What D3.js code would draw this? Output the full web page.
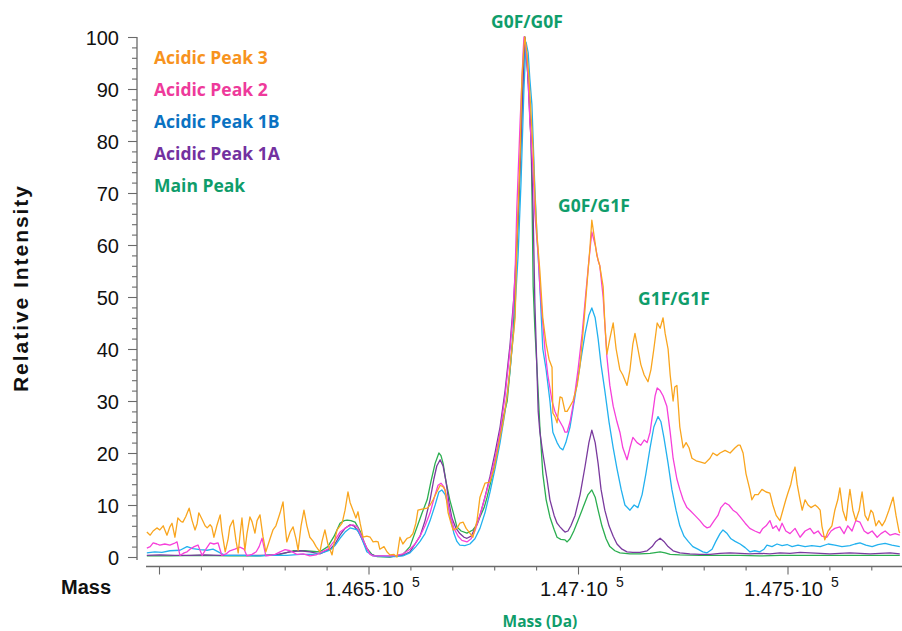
<!DOCTYPE html>
<html><head><meta charset="utf-8">
<script src="https://cdn.jsdelivr.net/npm/d3@7"></script>
<style>body{margin:0;background:#fff;} svg{display:block}</style>
</head><body>
<svg id="chart" width="902" height="631"></svg>
<script>
const seriesNames = ["Acidic Peak 3","Acidic Peak 2","Acidic Peak 1B","Acidic Peak 1A","Main Peak"];

const acidicPeak3 = [[145971,4.8],[145979,4.2],[145986,5.0],[145995,5.6],[146002,5.2],[146010,6.0],[146019,4.2],[146026,5.8],[146031,6.5],[146038,3.8],[146045,7.5],[146053,6.8],[146057,6.7],[146064,7.8],[146072,9.4],[146079,7.0],[146086,5.2],[146091,6.4],[146095,8.5],[146103,7.2],[146110,6.0],[146115,5.6],[146122,6.2],[146126,5.8],[146131,3.8],[146138,6.0],[146146,8.1],[146150,5.0],[146158,1.0],[146165,3.5],[146169,5.8],[146177,7.1],[146184,3.0],[146189,0.8],[146193,4.0],[146198,7.5],[146205,1.3],[146210,4.5],[146217,7.7],[146222,6.8],[146229,4.6],[146234,7.0],[146241,8.1],[146248,4.0],[146255,1.0],[146265,3.5],[146272,5.2],[146279,6.0],[146289,8.5],[146296,10.6],[146301,6.0],[146305,2.9],[146313,4.8],[146320,5.8],[146327,3.5],[146332,1.3],[146339,6.0],[146346,9.0],[146353,6.0],[146360,3.8],[146368,3.0],[146375,2.0],[146384,1.0],[146389,3.0],[146396,5.2],[146403,2.5],[146413,0.4],[146420,3.5],[146425,5.2],[146432,6.0],[146437,6.5],[146444,9.0],[146451,12.5],[146456,10.5],[146463,9.0],[146470,7.5],[146475,8.7],[146480,6.5],[146487,3.8],[146496,4.0],[146504,3.8],[146511,2.9],[146518,3.0],[146523,2.9],[146527,1.5],[146537,2.0],[146544,1.0],[146551,0.4],[146561,0.5],[146568,0.0],[146575,3.8],[146582,2.5],[146592,3.6],[146599,3.8],[146606,4.5],[146613,6.5],[146618,9.0],[146628,9.2],[146640,9.4],[146647,10.0],[146654,11.0],[146663,12.5],[146671,13.8],[146678,13.5],[146683,12.9],[146690,8.5],[146697,6.5],[146702,5.2],[146711,5.5],[146718,6.5],[146726,6.7],[146733,5.5],[146742,4.6],[146749,3.8],[146759,7.0],[146766,11.5],[146778,14.2],[146790,14.4],[146800,17.0],[146807,20.0],[146814,23.0],[146821,25.8],[146831,31],[146838,36.5],[146845,42],[146850,46],[146854,60],[146862,78],[146866,92],[146871,98],[146873,100],[146878,97],[146883,92],[146888,85],[146893,78],[146897,70],[146902,62],[146909,55],[146916,46],[146924,41],[146931,38],[146938,36.5],[146940,27.7],[146945,27],[146950,25.8],[146957,30.8],[146962,30.6],[146969,28],[146974,28],[146981,29],[146988,30],[146998,33],[147005,37],[147014,45],[147021,52],[147029,60],[147033,64.8],[147038,62],[147045,58],[147052,56],[147060,52],[147064,45],[147069,39],[147076,42],[147084,45],[147091,40],[147100,36],[147107,35],[147117,33],[147124,36],[147131,41],[147136,43],[147143,40],[147150,37],[147158,35],[147167,33.7],[147174,36],[147181,40],[147189,45],[147196,44],[147203,46],[147208,43],[147215,40],[147220,35],[147227,30],[147231,32.7],[147236,33],[147243,25],[147251,21],[147258,22],[147265,21],[147272,19],[147282,18.5],[147291,18.3],[147303,18],[147315,19],[147322,20],[147332,19.5],[147339,20],[147351,20.5],[147363,20],[147375,21],[147382,21.5],[147387,21.5],[147394,20],[147401,16],[147410,13],[147415,11],[147422,12],[147430,12],[147439,13],[147449,12.5],[147458,12.3],[147465,10],[147473,8],[147482,7],[147489,9],[147496,11],[147501,12.3],[147508,14],[147513,16],[147518,17.3],[147523,14],[147530,11],[147535,9],[147542,11],[147549,10],[147556,9.5],[147566,10],[147573,9.5],[147578,9],[147582,6],[147589,3.3],[147597,5],[147606,6],[147613,9],[147620,11],[147625,13.3],[147632,9],[147640,7],[147644,10],[147649,13],[147656,9],[147663,7],[147671,9],[147678,12.5],[147685,8],[147692,7],[147699,9],[147704,8.5],[147711,6],[147718,7],[147726,6],[147733,7],[147742,9],[147752,11.5],[147759,8],[147766,5],[147768,4.6]];

const acidicPeak2 = [[145971,1.7],[145979,2.0],[145986,2.7],[145995,2.5],[146002,2.3],[146014,2.5],[146026,2.3],[146036,2.6],[146043,2.9],[146050,0.3],[146060,0.8],[146067,1.0],[146074,1.5],[146084,2.0],[146093,2.3],[146103,0.3],[146112,1.5],[146122,2.7],[146131,2.5],[146141,2.7],[146150,0.3],[146160,0.6],[146169,1.2],[146181,1.5],[146193,1.9],[146203,1.5],[146210,0.2],[146222,0.5],[146232,1.0],[146239,2.0],[146246,3.6],[146255,0.2],[146265,0.3],[146277,0.5],[146289,1.0],[146301,1.4],[146313,1.2],[146329,0.5],[146344,0.6],[146360,0.2],[146375,0.4],[146389,1.0],[146403,1.5],[146418,3.0],[146432,4.8],[146442,5.4],[146449,5.8],[146463,6.2],[146473,5.8],[146480,4.6],[146489,3.0],[146496,1.7],[146504,0.5],[146511,0.2],[146527,0.2],[146551,0.2],[146568,0.3],[146582,0.6],[146599,1.5],[146611,2.5],[146623,4.0],[146635,6.0],[146647,8.5],[146659,12],[146666,13.8],[146673,14.2],[146680,13.5],[146687,11.5],[146694,8.5],[146704,5.5],[146714,4.0],[146723,3.2],[146735,2.9],[146745,3.5],[146754,5.0],[146766,8.0],[146778,11.5],[146790,15.0],[146802,19],[146814,24],[146826,31],[146838,40],[146845,47],[146850,55],[146854,67],[146862,84],[146869,97],[146871,100],[146876,98],[146881,92],[146885,84],[146893,74],[146897,66],[146905,58],[146909,52],[146914,47],[146921,40],[146928,35],[146938,30],[146945,28],[146950,27],[146957,26],[146964,25],[146969,24],[146974,24],[146981,26],[146990,30],[147000,36],[147010,43],[147019,51],[147026,57],[147033,62.5],[147041,60],[147048,57],[147052,56],[147060,50],[147069,38.5],[147076,33],[147084,29],[147093,26],[147100,24],[147107,21],[147117,18.7],[147124,21],[147131,23],[147141,22],[147150,21.5],[147158,22.5],[147165,22],[147172,24],[147179,28],[147184,31],[147189,32.5],[147196,32],[147203,31],[147212,29],[147220,24],[147227,19],[147236,15],[147243,13],[147251,11],[147260,9.5],[147267,9],[147279,8],[147291,7],[147301,6],[147308,5.6],[147315,5.8],[147325,7],[147334,8],[147341,9.5],[147351,10.4],[147360,10],[147370,9],[147379,8.5],[147387,7.7],[147399,6.5],[147410,5.5],[147422,5],[147434,4.6],[147441,5.5],[147449,6],[147458,7],[147465,5.5],[147473,6],[147480,5],[147487,6.5],[147496,5],[147506,4.5],[147518,5.5],[147530,3.8],[147542,5],[147554,5.5],[147563,4.5],[147573,5],[147582,4],[147594,3.8],[147604,5],[147613,5.5],[147625,5.8],[147635,4.5],[147644,6],[147654,5],[147663,7],[147673,6.7],[147683,5],[147692,4.5],[147702,5],[147714,3.8],[147723,4.5],[147733,5],[147745,4.2],[147757,4.5],[147768,4.2]];

const acidicPeak1B = [[145971,0.8],[145990,1.0],[146007,0.9],[146026,1.2],[146050,1.3],[146067,2.0],[146081,1.6],[146098,1.4],[146115,1.3],[146129,1.5],[146146,0.8],[146158,0.3],[146181,0.3],[146205,0.3],[146234,0.2],[146265,0.3],[146305,0.3],[146337,0.5],[146368,0.5],[146389,0.8],[146408,1.3],[146420,2.2],[146432,3.6],[146444,4.8],[146456,5.6],[146465,5.4],[146473,5.2],[146482,4.0],[146489,2.5],[146496,1.0],[146511,0.2],[146539,0.1],[146563,0.1],[146582,0.2],[146599,0.8],[146613,2.0],[146623,3.0],[146635,4.5],[146647,7.0],[146659,10],[146668,12.5],[146675,12.9],[146683,12],[146690,10],[146697,7],[146704,4.5],[146711,3],[146718,2.3],[146730,2.2],[146742,2.5],[146754,3.5],[146766,5.5],[146778,8.5],[146790,12.5],[146802,17],[146814,22],[146826,28],[146838,36],[146847,44],[146857,58],[146864,72],[146871,90],[146876,99],[146881,97],[146885,92],[146890,87],[146897,71],[146902,62],[146909,52],[146916,40],[146924,36],[146933,30],[146940,24],[146950,22],[146957,21],[146964,20.6],[146971,22],[146981,25],[146993,31],[147005,37],[147017,43],[147026,46.5],[147033,47.9],[147041,46],[147048,42],[147055,37],[147064,32],[147074,26],[147084,21],[147093,17],[147103,13],[147112,10],[147124,9],[147134,10],[147143,9.5],[147153,12],[147162,16],[147172,21],[147181,25],[147191,27],[147198,26],[147205,23],[147215,18],[147224,13],[147234,9],[147243,6],[147253,4],[147263,3],[147274,2],[147286,1.5],[147298,1],[147308,0.8],[147320,1.5],[147329,3],[147339,4.5],[147346,5.2],[147356,4.5],[147365,3.5],[147375,3],[147387,2.5],[147399,1.8],[147410,1],[147422,1.2],[147434,1],[147444,1.5],[147451,2.3],[147463,2],[147475,2.5],[147487,2.2],[147499,2.4],[147511,2.0],[147525,2.3],[147542,2.0],[147558,2.2],[147578,2.0],[147597,2.5],[147613,2.3],[147630,2.0],[147649,2.2],[147661,2.5],[147673,2.7],[147687,2.3],[147702,2.0],[147716,2.4],[147733,2.6],[147749,2.3],[147768,2.0]];

const acidicPeak1A = [[145971,0.3],[146002,0.4],[146038,0.3],[146074,0.3],[146110,0.4],[146146,0.3],[146193,0.3],[146241,0.3],[146277,0.4],[146313,1.0],[146337,1.2],[146360,1.0],[146384,0.6],[146408,1.5],[146420,2.5],[146432,4.2],[146444,5.5],[146456,6.2],[146465,6.0],[146475,5.0],[146484,3.5],[146494,1.8],[146504,0.6],[146515,0.2],[146551,0.1],[146582,0.3],[146599,1.0],[146611,2.5],[146623,4.0],[146635,7.0],[146647,11],[146656,15],[146663,17.5],[146671,18.7],[146678,17.5],[146685,14.5],[146692,10.5],[146699,7.5],[146709,5.5],[146718,4.5],[146728,3.8],[146735,3.6],[146745,4.0],[146754,5.5],[146766,8.0],[146778,11.5],[146790,15.5],[146802,20],[146814,25],[146826,32],[146838,41],[146847,50],[146857,65],[146864,80],[146871,95],[146873,100],[146878,96],[146883,88],[146888,80],[146893,66],[146897,49],[146902,36],[146905,28],[146909,24],[146916,20],[146926,15],[146933,11],[146943,8],[146950,6.5],[146957,5.8],[146964,5.2],[146969,4.8],[146976,5.0],[146983,6.0],[146993,8.0],[147005,12],[147017,17.5],[147026,22],[147033,24.4],[147041,22],[147048,18],[147055,13],[147064,9],[147074,6],[147084,4],[147093,2.5],[147105,1.5],[147117,1.0],[147131,0.9],[147148,0.9],[147165,1.2],[147177,2.0],[147186,3.0],[147196,3.6],[147205,3.0],[147215,2.0],[147227,1.2],[147243,0.8],[147267,0.6],[147291,0.5],[147315,0.5],[147339,0.7],[147363,0.8],[147387,0.7],[147410,0.6],[147434,0.7],[147458,0.6],[147482,0.8],[147506,0.7],[147530,0.9],[147554,0.8],[147578,0.7],[147601,0.6],[147625,0.7],[147649,0.8],[147673,0.7],[147697,0.6],[147721,0.7],[147745,0.8],[147768,0.6]];

const mainPeak = [[145971,0.2],[146026,0.2],[146098,0.3],[146169,0.2],[146241,0.2],[146289,0.5],[146320,1.2],[146348,1.2],[146384,1.0],[146403,2.0],[146418,4.0],[146432,6.5],[146442,7.0],[146449,7.1],[146458,7.0],[146468,6.7],[146480,5.0],[146489,3.0],[146496,1.7],[146508,0.5],[146520,0.1],[146551,0.0],[146582,0.5],[146599,2.0],[146616,5.8],[146628,8.5],[146640,11],[146649,14.5],[146659,18],[146668,20],[146673,19.5],[146678,18],[146685,14.5],[146694,11],[146704,8],[146711,5.8],[146721,5.0],[146735,4.6],[146749,5.2],[146759,6.2],[146766,7.7],[146776,9.5],[146783,11.5],[146795,15.5],[146807,20],[146819,26],[146831,30],[146838,36],[146845,43],[146852,55],[146859,68],[146866,85],[146871,97],[146873,100],[146878,95],[146883,90],[146888,80],[146890,71],[146893,52],[146897,44],[146902,36.5],[146909,25],[146916,16],[146924,11],[146933,7.7],[146943,5.3],[146950,3.8],[146959,3.4],[146969,3.3],[146974,2.9],[146981,3.5],[146990,5.0],[147000,7.0],[147012,9.5],[147024,12],[147033,12.9],[147041,11.5],[147048,9],[147057,6],[147067,3.5],[147076,2.0],[147088,1.2],[147100,0.8],[147124,0.6],[147148,0.6],[147172,0.7],[147196,1.0],[147208,0.8],[147220,0.5],[147243,0.4],[147291,0.3],[147339,0.3],[147387,0.3],[147434,0.2],[147482,0.3],[147530,0.3],[147578,0.3],[147625,0.3],[147673,0.3],[147721,0.3],[147768,0.3]];

const yTickValues = [0,10,20,30,40,50,60,70,80,90,100];
const xLabelTicks = [146500,147000,147500];
const xLabelMantissa = ["1.465·10","1.47·10","1.475·10"];
const xLabelExponent = ["5","5","5"];
const annotationTexts = ["G0F/G0F","G0F/G1F","G1F/G1F"];
const annotationMass = [146878,147038,147229];
const annotationValue = [101.7,66.3,48.5];

const lineColors = ["#F9A51E","#F640DA","#22B1EF","#7A3A9E","#2BAE50"];
const legendColors = ["#F7931E","#EE3A9B","#0A72C2","#7331A0","#0F9D6B"];
const annotColor = "#0F9D6B";

const svg = d3.select("#chart");
const x = d3.scaleLinear().domain([146000,147500]).range([159,787.5]);
const y = d3.scaleLinear().domain([0,100]).range([557,37]);

const axisColor = "#6a6a6a";
// y axis
const yAxis = d3.axisLeft(y).tickValues(d3.range(0,101,2)).tickSize(0).tickFormat("");
const gy = svg.append("g").attr("transform","translate(137,0)").call(yAxis);
gy.select(".domain").remove();
gy.append("line").attr("x1",0).attr("x2",0).attr("y1",y(100)).attr("y2",560).attr("stroke",axisColor).attr("stroke-width",1.3);
gy.selectAll(".tick line").attr("x2", d => d%10===0 ? -9 : -5).attr("stroke",axisColor).attr("stroke-width",1.1);
gy.selectAll(".tick").filter(d => yTickValues.includes(d)).append("text")
  .attr("x",-18).attr("dy","0.36em").attr("text-anchor","end")
  .attr("fill","#111").style("font","20px 'Liberation Sans', Arial, sans-serif").text(d=>d);

// x axis
const xAxis = d3.axisBottom(x).tickValues(d3.range(146000,147800,100)).tickSize(0).tickFormat("");
const gx = svg.append("g").attr("transform","translate(0,566.5)").call(xAxis);
gx.select(".domain").remove();
gx.append("line").attr("x1",146).attr("x2",902).attr("y1",0).attr("y2",0).attr("stroke",axisColor).attr("stroke-width",1.3);
gx.selectAll(".tick line").attr("y2", d => d%500===0 ? 8 : 4).attr("stroke",axisColor).attr("stroke-width",1.1);

xLabelTicks.forEach((m,i)=>{
  const t = svg.append("text").attr("x", x(m)-4).attr("y",596).attr("text-anchor","middle")
    .attr("fill","#111").style("font","20px 'Liberation Sans', Arial, sans-serif").text(xLabelMantissa[i]);
  const w = t.node().getComputedTextLength();
  svg.append("text").attr("x", x(m)-4 + w/2 + 8).attr("y",587)
    .attr("fill","#111").style("font","14px 'Liberation Sans', Arial, sans-serif").text(xLabelExponent[i]);
});

svg.append("text").attr("x",61).attr("y",594).attr("fill","#111")
  .style("font","bold 20px 'Liberation Sans', Arial, sans-serif").text("Mass");
svg.append("text").attr("transform","translate(28,289) rotate(-90)").attr("text-anchor","middle")
  .attr("textLength",206).attr("lengthAdjust","spacing")
  .attr("fill","#111").style("font","bold 21px 'Liberation Sans', Arial, sans-serif").text("Relative Intensity");
svg.append("text").attr("x",540).attr("y",627).attr("text-anchor","middle").attr("fill",annotColor)
  .style("font","bold 15.5px 'Open Sans', sans-serif").text("Mass (Da)");

// lines
svg.append("clipPath").attr("id","clip").append("rect").attr("x",146).attr("y",0).attr("width",756).attr("height",566);
const line = d3.line().x(d=>x(d[0])).y(d=>y(d[1]));
const seriesData = [acidicPeak3, acidicPeak2, acidicPeak1B, acidicPeak1A, mainPeak];
const drawOrder = [4,3,2,1,0];
const gl = svg.append("g").attr("clip-path","url(#clip)");
drawOrder.forEach(i=>{
  gl.append("path").datum(seriesData[i]).attr("d",line).attr("fill","none")
    .attr("stroke",lineColors[i]).attr("stroke-width",1.3).attr("stroke-linejoin","round");
});

// legend
seriesNames.forEach((n,i)=>{
  svg.append("text").attr("x",154).attr("y",64+i*32).attr("fill",legendColors[i])
    .style("font","bold 17.5px 'Open Sans', sans-serif").text(n);
});

// annotations
annotationTexts.forEach((t,i)=>{
  svg.append("text").attr("x",x(annotationMass[i])).attr("y",y(annotationValue[i]))
    .attr("text-anchor","middle").attr("fill",annotColor)
    .style("font","bold 17.5px 'Open Sans', sans-serif").text(t);
});
</script>
</body></html>
